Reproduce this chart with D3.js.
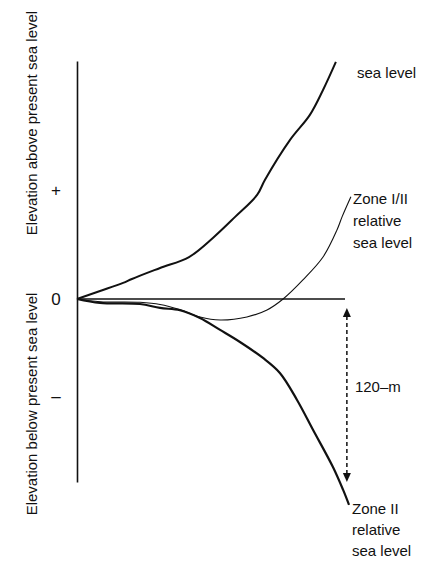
<!DOCTYPE html>
<html>
<head>
<meta charset="utf-8">
<script src="https://cdn.jsdelivr.net/npm/d3@7"></script>
<style>
body { margin: 0; background: #fff; }
text { font-family: "Liberation Sans", Arial, sans-serif; fill: #111; }
</style>
</head>
<body>
<div id="chart"></div>
<script>
// values (x: arbitrary time units 0-100, y: metres relative to present sea level)
const seaLevel = [[0,0],[8.6,5.2],[17.2,10.5],[20.5,13.1],[31,20.3],[41.8,27.5],[50.7,40],[59,53.8],
  [67.2,68.2],[70.1,78],[79.5,104.3],[86.9,120.7],[91.8,137],[96.6,155.4]];
const zoneI_II = [[0,0],[8.6,-1.8],[23.5,-2.2],[31,-3.6],[38.4,-7],[45.9,-11.8],[53.4,-13.8],[63.4,-11.8],
  [70.9,-7.2],[76.9,0],[84.3,12.5],[91.8,27.5],[97,45.2],[98.9,53.8],[102.2,67]];
const zoneII = [[0,0],[8.6,-2.6],[23.5,-3.3],[31,-5.9],[38.4,-7.4],[45.9,-12.5],[53.4,-20.3],[60.8,-28.2],
  [69.4,-38.7],[75.7,-48.5],[82.1,-66.2],[88.1,-85.9],[95.5,-110.2],[99.3,-125.2],[101.5,-135]];

const yTickValues = [71.5, 0, -63];
const yTickLabels = ["+", "0", "\u2013"];
const rangeArrow = {x: 100.7, from: -6, to: -120, label: "120\u2013m"};

const margin = {top: 61, left: 77};
const width = 268, height = 421;

const svg = d3.select("#chart").append("svg")
  .attr("width", 421)
  .attr("height", 561);

const g = svg.append("g")
  .attr("transform", "translate(" + margin.left + "," + margin.top + ")");

const x = d3.scaleLinear().domain([0, 100]).range([0, width]);
const y = d3.scaleLinear().domain([-120, 156]).range([height, 0]);

// vertical axis with + / 0 / - labels
const yAxis = g.append("g")
  .call(d3.axisLeft(y).tickValues(yTickValues)
    .tickFormat((d, i) => yTickLabels[i])
    .tickSize(0).tickPadding(0));
yAxis.select(".domain").attr("stroke", "#111").attr("stroke-width", 1.6);
yAxis.selectAll("text")
  .attr("x", -21)
  .attr("dy", "0.35em")
  .style("text-anchor", "middle")
  .style("font-family", "'Liberation Sans', Arial, sans-serif")
  .style("font-size", "17px")
  .attr("fill", "#111");

// present sea level (zero line)
g.append("line")
  .attr("x1", x(0)).attr("x2", x(100))
  .attr("y1", y(0)).attr("y2", y(0))
  .attr("stroke", "#111").attr("stroke-width", 1.4);

const line = d3.line()
  .x(d => x(d[0]))
  .y(d => y(d[1]))
  .curve(d3.curveCatmullRom.alpha(0.5));

g.append("path").datum(zoneI_II)
  .attr("d", line).attr("fill", "none")
  .attr("stroke", "#111").attr("stroke-width", 1.1);

g.append("path").datum(seaLevel)
  .attr("d", line).attr("fill", "none")
  .attr("stroke", "#111").attr("stroke-width", 2);

g.append("path").datum(zoneII)
  .attr("d", line).attr("fill", "none")
  .attr("stroke", "#111").attr("stroke-width", 2.2);

// dashed double arrow for the 120 m range
const ax = x(rangeArrow.x), ay1 = y(rangeArrow.from), ay2 = y(rangeArrow.to);
g.append("line")
  .attr("x1", ax).attr("x2", ax)
  .attr("y1", ay1 + 8).attr("y2", ay2 - 8)
  .attr("stroke", "#111").attr("stroke-width", 1.5)
  .attr("stroke-dasharray", "4,3");
g.append("path")
  .attr("d", "M" + ax + "," + ay1 + "l-4,9h8z")
  .attr("fill", "#111");
g.append("path")
  .attr("d", "M" + ax + "," + ay2 + "l-4,-9h8z")
  .attr("fill", "#111");
g.append("text")
  .attr("x", ax + 8)
  .attr("y", y(-61))
  .style("font-size", "15px")
  .text(rangeArrow.label);

// y axis titles
svg.append("text")
  .attr("transform", "rotate(-90)")
  .attr("x", -123).attr("y", 37)
  .style("text-anchor", "middle")
  .style("font-size", "15px")
  .text("Elevation above present sea level");
svg.append("text")
  .attr("transform", "rotate(-90)")
  .attr("x", -404).attr("y", 37)
  .style("text-anchor", "middle")
  .style("font-size", "15px")
  .text("Elevation below present sea level");

// curve labels
function label(lines, lx, ly, step) {
  const t = svg.append("text").style("font-size", "15px");
  lines.forEach((s, i) => {
    t.append("tspan").attr("x", lx).attr("y", ly + i * step).text(s);
  });
}
label(["sea level"], 357, 78, 22);
label(["Zone I/II", "relative", "sea level"], 353, 204, 22);
label(["Zone II", "relative", "sea level"], 352, 514, 21);
</script>
</body>
</html>
